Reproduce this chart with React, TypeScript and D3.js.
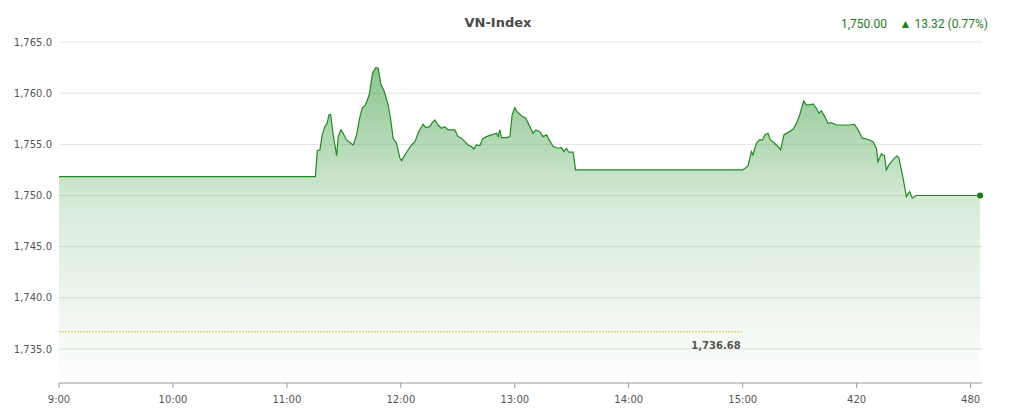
import * as d3 from 'd3'
import { useMemo } from 'react'

// minutes since 9:00 and VN-Index value
const minutes = [
    0, 135, 136, 137.4, 138.6, 140, 141.2, 142.1, 143, 144.4, 146.2, 147, 148.4, 149.6, 151.4, 154.9,
    156.7, 158.1, 159.6, 161.4, 163.3, 165.1, 166.8, 168.1, 169.5, 171.2, 173.3, 174.7, 175.9, 177.7,
    179.5, 180.4, 182.1, 183.8, 185.6, 187.4, 189.6, 191.7, 193.2, 195.3, 196.2, 197.9, 199.6, 201.4,
    203.2, 204.9, 206.7, 208.4, 210.2, 211.9, 213.7, 215.4, 217.2, 218.4, 219.8, 221.6, 223, 225.1,
    227.7, 230.4, 231.2, 232.1, 233, 235.6, 237.4, 238.6, 240, 241.2, 243.5, 245.8, 247.5, 249.6,
    251.1, 253.2, 254.9, 256.7, 258.1, 260.2, 262.8, 264.6, 265.8, 267.2, 268.4, 270.7, 272, 360,
    362.8, 364.6, 365.4, 367.2, 368.9, 370.4, 371.6, 373.3, 374.6, 376.8, 378.6, 380, 381.7, 384.4,
    386.5, 388.3, 390, 392.1, 393.5, 395.3, 397, 398.8, 400.2, 401.4, 403.2, 404.9, 406.7, 409.3,
    412.8, 416.3, 418.9, 420.7, 423, 425.9, 428.6, 430.4, 431.2, 433, 434.7, 435.6, 437, 439.1,
    441.2, 442.3, 444.4, 446.2, 447.9, 449.3, 451.4, 485
]
const values = [
    1751.85, 1751.85, 1754.38, 1754.45, 1755.92, 1756.73, 1757.06, 1757.87, 1757.94, 1755.92, 1753.9,
    1755.75, 1756.41, 1756.08, 1755.43, 1754.94, 1755.92, 1757.38, 1758.53, 1758.85, 1759.82, 1761.94,
    1762.49, 1762.43, 1760.87, 1760.21, 1758.85, 1757.38, 1755.6, 1755.11, 1753.64, 1753.41, 1753.96,
    1754.45, 1754.94, 1755.26, 1756.31, 1756.96, 1756.63, 1756.73, 1757.06, 1757.38, 1756.89, 1756.57,
    1756.73, 1756.41, 1756.41, 1756.41, 1755.75, 1755.6, 1755.26, 1754.94, 1754.78, 1754.55, 1754.94,
    1754.87, 1755.53, 1755.75, 1755.92, 1756.08, 1755.75, 1756.41, 1755.65, 1755.65, 1755.75, 1757.87,
    1758.58, 1758.19, 1757.8, 1757.55, 1756.89, 1756.08, 1756.41, 1756.24, 1755.75, 1755.92, 1755.43,
    1754.78, 1754.62, 1754.68, 1754.29, 1754.62, 1754.23, 1754.23, 1752.5, 1752.5,
    1752.89, 1754.29, 1753.96, 1755.11, 1755.43, 1755.43, 1755.92, 1756.08, 1755.43, 1755.11, 1754.78,
    1754.45, 1755.92, 1756.24, 1756.47, 1757.06, 1757.87, 1759.24, 1758.85, 1758.85, 1758.95, 1758.53,
    1758.04, 1758.29, 1757.71, 1757.06, 1757.12, 1756.89, 1756.89, 1756.89, 1756.96, 1756.41, 1755.6,
    1755.5, 1755.26, 1754.62, 1753.31, 1754.06, 1753.87, 1752.5, 1752.99, 1753.48, 1753.87, 1753.64,
    1751.72, 1749.89, 1750.38, 1749.74, 1750, 1750
]

const yTicks = [1735, 1740, 1745, 1750, 1755, 1760, 1765]
const xTicks = [0, 60, 120, 180, 240, 300, 360, 420, 480]
const xTickLabels = ['9:00', '10:00', '11:00', '12:00', '13:00', '14:00', '15:00', '420', '480']

const refValue = 1736.68
const refEnd = 360
const title = 'VN-Index'
const lastText = '1,750.00'
const changeText = '▲ 13.32 (0.77%)'

const font = '"DejaVu Sans", Verdana, sans-serif'

const App = () => {
    const width = 1018
    const height = 413
    const left = 59
    const right = 982
    const bottom = 383

    const x = useMemo(() => d3.scaleLinear().domain([0, 486]).range([left, right]), [])
    const y = useMemo(() => d3.scaleLinear().domain([1735, 1765]).range([349, 42]), [])

    const data = minutes.map((m, i) => [m, values[i]] as [number, number])

    const line = d3.line<[number, number]>().x(d => x(d[0])).y(d => y(d[1]))
    const area = d3.area<[number, number]>().x(d => x(d[0])).y0(bottom).y1(d => y(d[1]))

    const fmt = d3.format(',.1f')
    const last = data[data.length - 1]

    return (
        <div style={{ position: 'absolute', left: 0, top: 0 }}>
            <svg width={width} height={height} style={{ display: 'block', background: '#fff' }}>
                <defs>
                    <linearGradient id="fillGrad" x1="0" y1={y(1762.6)} x2="0" y2={bottom} gradientUnits="userSpaceOnUse">
                        <stop offset="0" stopColor="#43a047" stopOpacity={0.62} />
                        <stop offset="0.45" stopColor="#43a047" stopOpacity={0.2} />
                        <stop offset="1" stopColor="#43a047" stopOpacity={0.01} />
                    </linearGradient>
                </defs>

                {yTicks.map(t => (
                    <g key={t}>
                        <line x1={left} x2={right} y1={y(t)} y2={y(t)} stroke="#e3e3e3" strokeWidth={1} />
                        <text x={52} y={y(t)} dy="0.35em" textAnchor="end" fontSize={10} fontFamily={font} fill="#555">
                            {fmt(t)}
                        </text>
                    </g>
                ))}

                <path d={area(data) ?? ''} fill="url(#fillGrad)" />
                <path d={line(data) ?? ''} fill="none" stroke="#238823" strokeWidth={1.2} />
                <circle cx={x(last[0])} cy={y(last[1])} r={3} fill="#1a7a1a" />

                <line x1={left} x2={x(refEnd)} y1={y(refValue)} y2={y(refValue)} stroke="#f2b84b" strokeWidth={1} strokeDasharray="2,1" />
                <text x={x(refEnd) - 2} y={y(refValue) + 17} textAnchor="end" fontSize={10} fontWeight="bold" fontFamily={font} fill="#555">
                    {d3.format(',.2f')(refValue)}
                </text>

                <line x1={left} x2={right} y1={bottom} y2={bottom} stroke="#999" strokeWidth={1} />
                {xTicks.map((t, i) => (
                    <g key={t}>
                        <line x1={x(t)} x2={x(t)} y1={bottom} y2={bottom + 5} stroke="#999" />
                        <text x={x(t)} y={bottom + 20} textAnchor="middle" fontSize={10} fontFamily={font} fill="#555">
                            {xTickLabels[i]}
                        </text>
                    </g>
                ))}

                <text x={498} y={27} textAnchor="middle" fontSize={13} fontWeight="bold" fontFamily={font} fill="#4a4a4a">
                    {title}
                </text>
                <text x={887} y={28} textAnchor="end" fontSize={12} fontFamily="Roboto, sans-serif" fill="#1b7d1b">
                    {lastText}
                </text>
                <text x={988} y={28} textAnchor="end" fontSize={12} fontFamily="Roboto, sans-serif" fill="#1b7d1b">
                    {changeText}
                </text>
            </svg>
        </div>
    )
}

export default App
